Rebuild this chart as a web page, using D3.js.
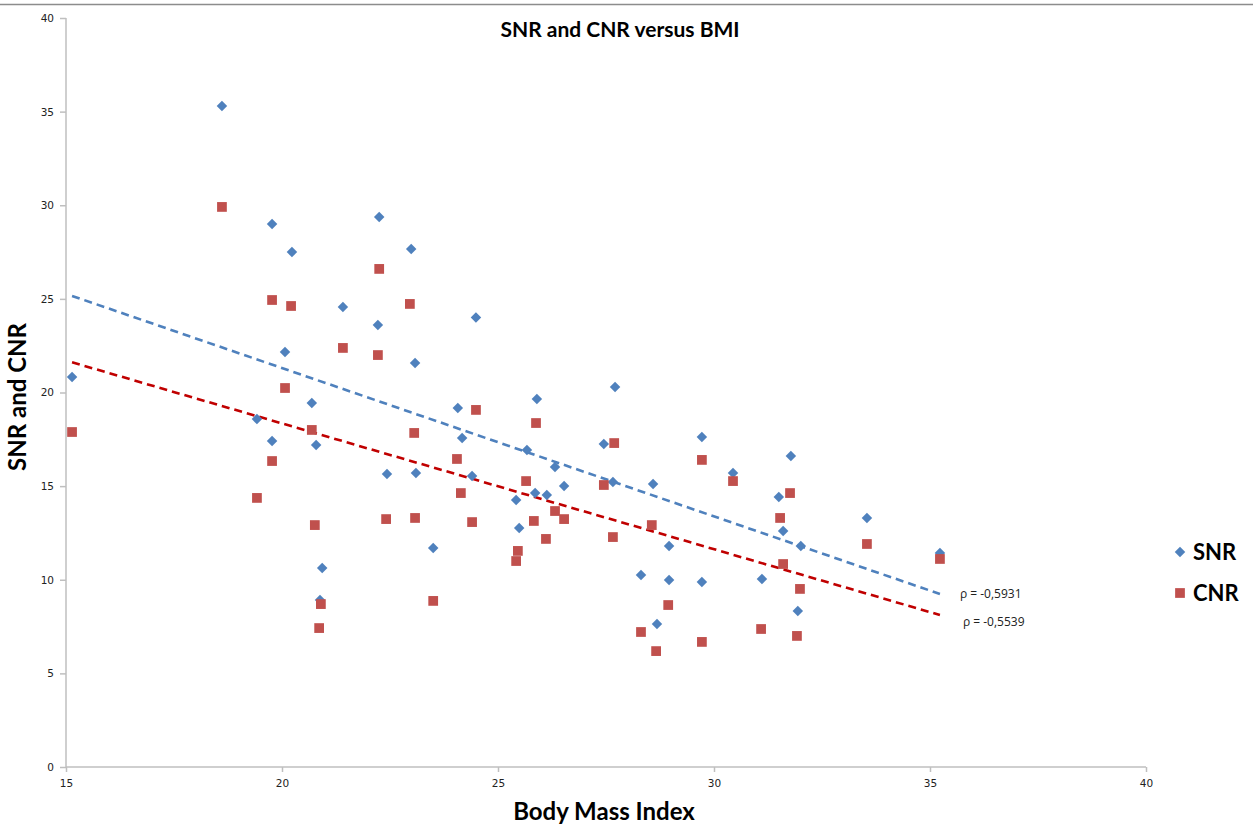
<!DOCTYPE html>
<html>
<head>
<script src="https://d3js.org/d3.v7.min.js"></script>
<style>
  body { margin: 0; background: #fff; }
</style>
</head>
<body>
<script>
// BMI / SNR / CNR values
var snrBmi = [15.14,18.61,19.42,19.77,19.77,20.07,20.23,20.69,20.79,20.88,20.93,21.41,22.22,22.25,22.43,22.99,23.08,23.10,23.50,24.07,24.17,24.40,24.49,25.42,25.49,25.67,25.86,25.90,26.13,26.32,26.53,27.45,27.66,27.71,28.31,28.59,28.68,28.96,28.96,29.72,29.72,30.44,31.11,31.50,31.60,31.78,31.94,32.01,33.54,35.23];
var snrVal = [20.83,35.30,18.58,29.00,17.41,22.16,27.50,19.44,17.20,8.92,10.63,24.57,23.60,29.37,15.65,27.66,21.58,15.70,11.70,19.17,17.57,15.54,24.00,14.26,12.76,16.93,14.63,19.65,14.53,16.02,15.01,17.25,15.22,20.29,10.25,15.11,7.64,11.80,9.99,17.62,9.88,15.70,10.04,14.42,12.60,16.61,8.33,11.80,13.30,11.43];

var cnrBmi = [15.14,18.61,19.42,19.77,19.77,20.07,20.21,20.69,20.76,20.86,20.90,21.41,22.22,22.25,22.41,22.96,23.06,23.08,23.50,24.05,24.14,24.40,24.49,25.42,25.46,25.65,25.83,25.88,26.11,26.32,26.53,27.45,27.66,27.69,28.31,28.56,28.66,28.94,29.72,29.72,30.44,31.09,31.53,31.60,31.76,31.92,31.99,33.54,35.23];
var cnrVal = [17.89,29.91,14.37,24.94,16.34,20.24,24.62,18.00,12.92,7.42,8.70,22.38,22.00,26.60,13.24,24.73,17.84,13.30,8.87,16.45,14.63,13.08,19.07,11.00,11.54,15.27,13.14,18.37,12.18,13.67,13.24,15.06,12.28,17.30,7.21,12.92,6.19,8.65,16.40,6.68,15.27,7.37,13.30,10.84,14.63,7.00,9.51,11.91,11.11];

var xTicks = [15,20,25,30,35,40];
var yTicks = [0,5,10,15,20,25,30,35,40];
var rhoLabels = ["ρ = -0,5931", "ρ = -0,5539"];

var W = 1253, H = 828;
var svg = d3.select('body').append('svg').attr('width', W).attr('height', H);

var x = d3.scaleLinear().domain([15, 40]).range([66, 1146]);
var y = d3.scaleLinear().domain([0, 40]).range([767, 18]);

// frame line at top
svg.append('line').attr('x1', 0).attr('x2', W).attr('y1', 4.5).attr('y2', 4.5)
  .attr('stroke', '#8c8c8c').attr('stroke-width', 1.5);

var axisColor = '#bfbfbf';

var yAxis = svg.append('g').attr('transform', 'translate(66,0)')
  .call(d3.axisLeft(y).tickValues(yTicks).tickSize(6).tickPadding(6));
var xAxis = svg.append('g').attr('transform', 'translate(0,767)')
  .call(d3.axisBottom(x).tickValues(xTicks).tickSize(5).tickPadding(8));
[xAxis, yAxis].forEach(function(a) {
  a.select('.domain').attr('stroke', axisColor).attr('stroke-width', 1.5);
  a.selectAll('.tick line').attr('stroke', axisColor).attr('stroke-width', 1.5);
  a.selectAll('.tick text').attr('fill', '#222').style('font-family', 'DejaVu Sans, Verdana, sans-serif').style('font-size', '10.5px');
});
xAxis.select('.domain').attr('d', 'M66,0H1146');
yAxis.select('.domain').attr('d', 'M0,18V767');

// least-squares trend line
function trend(xs, ys) {
  var mx = d3.mean(xs), my = d3.mean(ys);
  var num = 0, den = 0;
  for (var i = 0; i < xs.length; i++) {
    num += (xs[i] - mx) * (ys[i] - my);
    den += (xs[i] - mx) * (xs[i] - mx);
  }
  var b = num / den, a = my - b * mx;
  var x0 = d3.min(xs), x1 = d3.max(xs);
  return [[x0, a + b * x0], [x1, a + b * x1]];
}

var line = d3.line().x(function(d) { return x(d[0]); }).y(function(d) { return y(d[1]); });

var snrTrend = trend(snrBmi, snrVal);
var cnrTrend = trend(cnrBmi, cnrVal);

svg.append('path').attr('d', line(snrTrend)).attr('fill', 'none')
  .attr('stroke', '#4f81bd').attr('stroke-width', 2.6).attr('stroke-dasharray', '8,5');
svg.append('path').attr('d', line(cnrTrend)).attr('fill', 'none')
  .attr('stroke', '#c00000').attr('stroke-width', 2.6).attr('stroke-dasharray', '8,5');

var diamond = d3.symbol().type(d3.symbolDiamond2).size(70);
var square = d3.symbol().type(d3.symbolSquare).size(95);

svg.append('g').selectAll('path')
  .data(d3.zip(snrBmi, snrVal)).enter().append('path')
  .attr('d', diamond)
  .attr('transform', function(d) { return 'translate(' + x(d[0]) + ',' + y(d[1]) + ')'; })
  .attr('fill', '#4f81bd');

svg.append('g').selectAll('path')
  .data(d3.zip(cnrBmi, cnrVal)).enter().append('path')
  .attr('d', square)
  .attr('transform', function(d) { return 'translate(' + x(d[0]) + ',' + y(d[1]) + ')'; })
  .attr('fill', '#c0504d');

// rho labels at end of trend lines
svg.append('text').attr('x', x(snrTrend[1][0]) + 20).attr('y', y(snrTrend[1][1]) + 4)
  .text(rhoLabels[0]).style('font-family', 'Open Sans, sans-serif').style('font-size', '12px').attr('fill', '#222');
svg.append('text').attr('x', x(cnrTrend[1][0]) + 23).attr('y', y(cnrTrend[1][1]) + 11)
  .text(rhoLabels[1]).style('font-family', 'Open Sans, sans-serif').style('font-size', '12px').attr('fill', '#222');

// titles
svg.append('text').attr('x', 620).attr('y', 37).attr('text-anchor', 'middle')
  .text('SNR and CNR versus BMI')
  .style('font-family', 'Lato, sans-serif').style('font-weight', 'bold').style('font-size', '21px').attr('fill', '#000');
svg.append('text').attr('x', 604).attr('y', 820).attr('text-anchor', 'middle')
  .text('Body Mass Index')
  .style('font-family', 'Lato, sans-serif').style('font-weight', 'bold').style('font-size', '24px').attr('fill', '#000');
svg.append('text').attr('transform', 'translate(26,397) rotate(-90)').attr('text-anchor', 'middle')
  .text('SNR and CNR')
  .style('font-family', 'Lato, sans-serif').style('font-weight', 'bold').style('font-size', '24px').attr('fill', '#000');

// legend
var legend = svg.append('g');
legend.append('path').attr('d', diamond).attr('transform', 'translate(1180,552)').attr('fill', '#4f81bd');
legend.append('text').attr('x', 1193).attr('y', 560).text('SNR')
  .style('font-family', 'Lato, sans-serif').style('font-weight', 'bold').style('font-size', '22px');
legend.append('path').attr('d', square).attr('transform', 'translate(1180,593)').attr('fill', '#c0504d');
legend.append('text').attr('x', 1193).attr('y', 601).text('CNR')
  .style('font-family', 'Lato, sans-serif').style('font-weight', 'bold').style('font-size', '22px');
</script>
</body>
</html>
